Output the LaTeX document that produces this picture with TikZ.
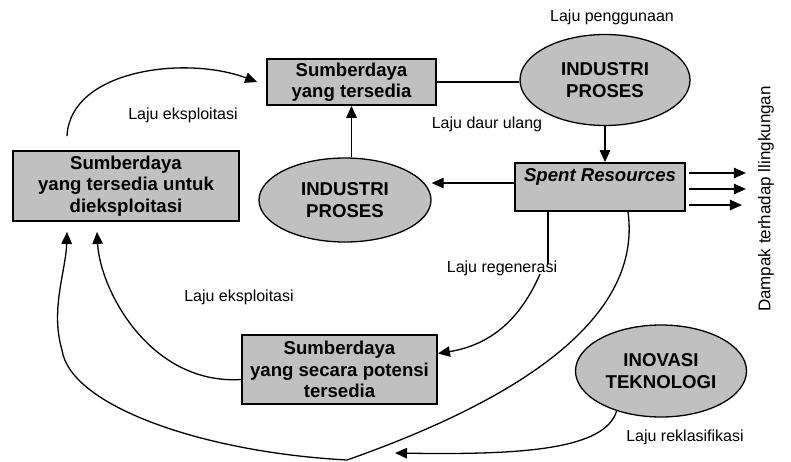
\documentclass[tikz,border=0pt]{standalone}
\usepackage{fontspec}
\setmainfont{Liberation Sans}
\usetikzlibrary{arrows.meta,shapes.geometric}
\definecolor{boxgray}{RGB}{192,192,192}
\begin{document}
\begin{tikzpicture}[x=1pt,y=-1pt,
  lbl/.style={font=\fontsize{16}{18}\selectfont, inner sep=0pt},
  bt/.style={font=\fontsize{18.6}{21.5}\selectfont\bfseries, align=center},
  ell/.style={ellipse, draw, line width=1.3pt, fill=boxgray, inner sep=0pt, bt},
  rect/.style={rectangle, draw, line width=1.8pt, fill=boxgray, inner sep=0pt, bt},
  ln/.style={line width=1.3pt},
  arr/.style={ln, -{Triangle[length=12pt,width=10.5pt]}},
]
\useasboundingbox (0,0) rectangle (791,461);

% nodes
\node[rect, minimum width=169pt, minimum height=46pt] (boxTop) at (351.5,82) {Sumberdaya\\yang tersedia};
\node[ell, minimum width=170pt, minimum height=91pt] (ellTop) at (605,80) {INDUSTRI\\PROSES};
\node[rect, minimum width=170pt, minimum height=48pt] (spent) at (600,187) {};
\node[bt, inner sep=0pt] (spentTxt) at (600,177) {\itshape Spent Resources};
\node[ell, minimum width=172pt, minimum height=84pt] (ellLeft) at (345,200) {INDUSTRI\\PROSES};
\node[rect, minimum width=226pt, minimum height=70pt] (boxLeft) at (126,186) {Sumberdaya\\yang tersedia untuk\\dieksploitasi};
\node[rect, minimum width=195pt, minimum height=69pt] (boxBot) at (339.5,369.5) {Sumberdaya\\yang secara potensi\\tersedia};
\node[ell, minimum width=171pt, minimum height=92pt] (ellInov) at (661,371) {INOVASI\\TEKNOLOGI};

% labels
\node[lbl] (lPeng) at (612,17) {Laju penggunaan};
\node[lbl] (lEks1) at (183,115) {Laju eksploitasi};
\node[lbl] (lDaur) at (487,124) {Laju daur ulang};
\node[lbl] (lRegen) at (502,268) {Laju regenerasi};
\node[lbl] (lEks2) at (239,297) {Laju eksploitasi};
\node[lbl] (lRekl) at (685,437) {Laju reklasifikasi};
\node[lbl, font=\fontsize{17}{19}\selectfont, rotate=90] (lDampak) at (766,199) {Dampak terhadap llingkungan};

\coordinate (regenStart) at (540,274);
\coordinate (reklEnd) at (395,453);

% connectors
\draw[ln] (boxTop.east) -- (ellTop.west |- boxTop.east);
\draw[arr] (ellTop.south) -- (ellTop.south |- spent.north);
\draw[arr] ([yshift=4pt]spent.west) -- ([yshift=4pt]spent.west -| ellLeft.east);
\draw[arr] (boxTop.south |- ellLeft.north) -- (boxTop.south);
\draw[arr] ([xshift=3pt,yshift=14pt]spent.east) -- ++(57,0);
\draw[arr] ([xshift=3pt,yshift=-2pt]spent.east) -- ++(57,0);
\draw[arr] ([xshift=3pt,yshift=-18pt]spent.east) -- ++(53,0);

\draw[arr] ([xshift=-59pt,yshift=14pt]boxLeft.north) .. controls (70,70) and (185,55) .. ([xshift=-9pt]boxTop.west);

\draw[ln] ([xshift=-52pt]spent.south) -- ++(0,52);
\draw[arr] (regenStart) .. controls (520,320) and (490,345) .. ([yshift=16pt]boxBot.east);

\draw[arr] ([xshift=28pt]spent.south) .. controls (640,300) and (560,385) .. (347,460)
  .. controls (200,452) and (70,405) .. (62,350)
  .. controls (50,310) and (66,270) .. ([xshift=-59pt,yshift=-10pt]boxLeft.south);

\draw[arr] ([yshift=-10pt]boxBot.west) .. controls (150,385) and (100,290) .. ([xshift=-29pt,yshift=-10pt]boxLeft.south);

\draw[arr] (ellInov.222) .. controls (605,450) and (520,455) .. (reklEnd);
\end{tikzpicture}
\end{document}
